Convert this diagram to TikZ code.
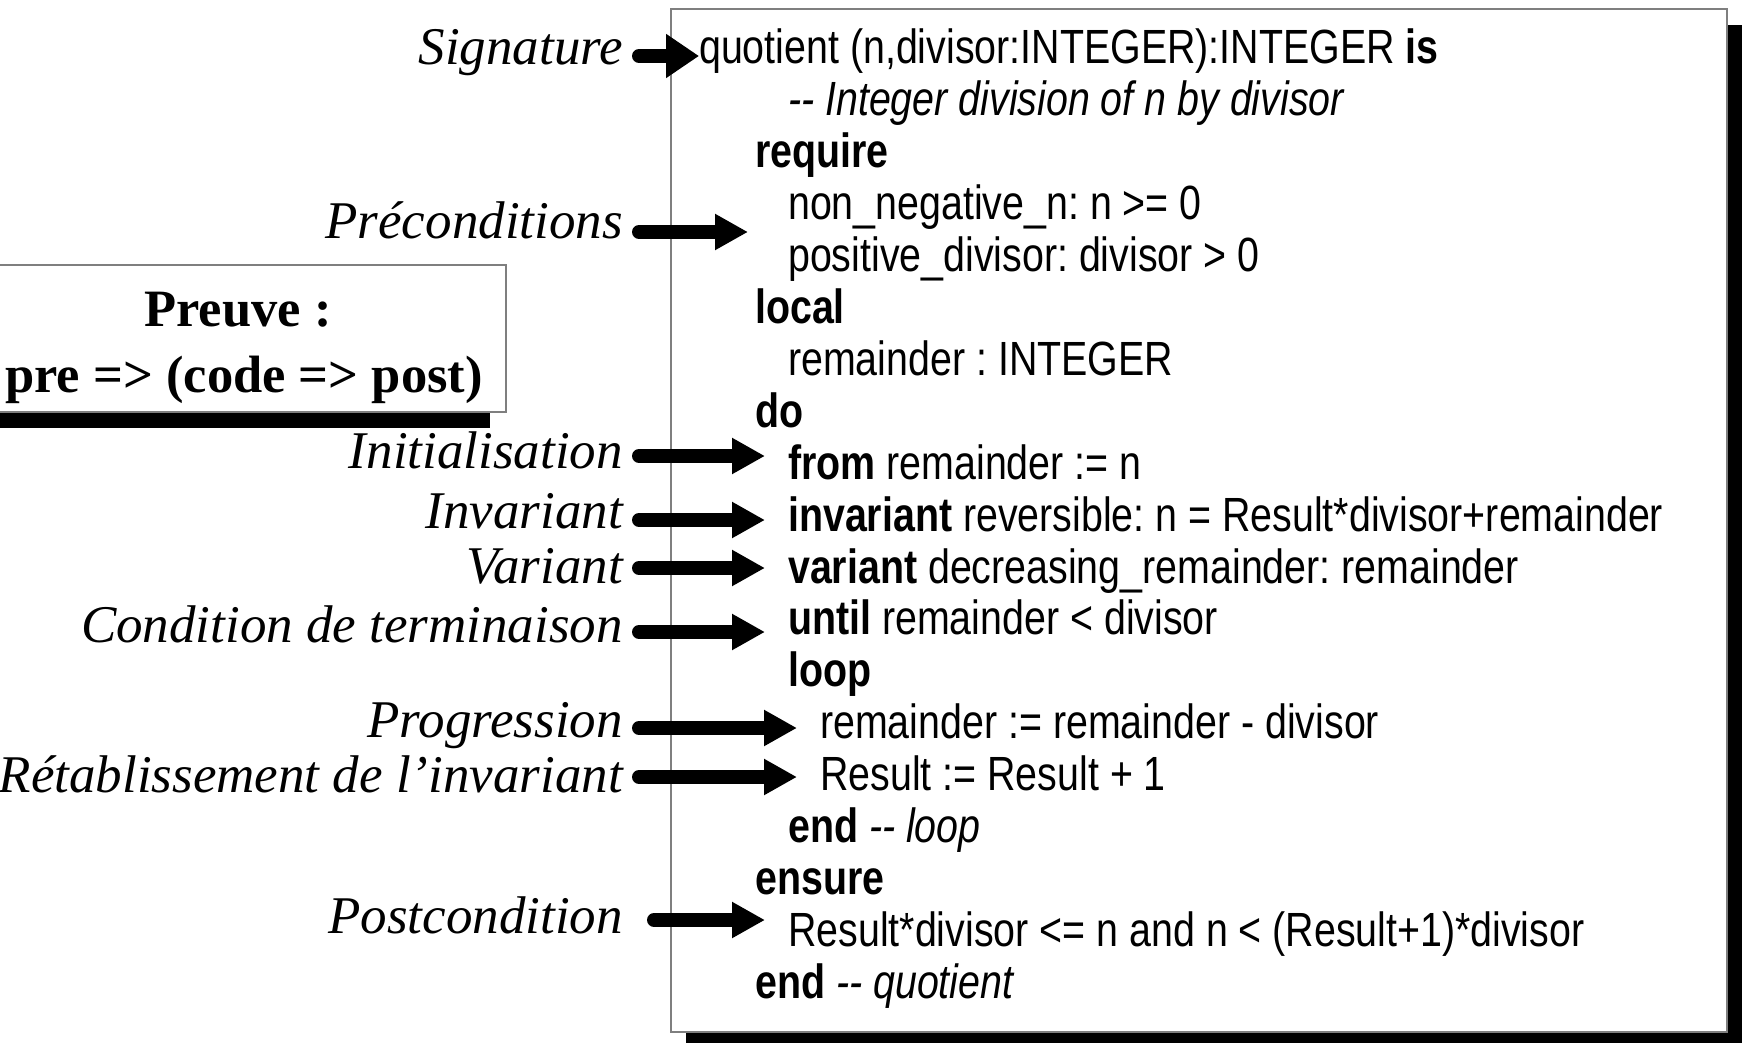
\documentclass[tikz,border=0pt]{standalone}
\usepackage{fontspec}
\usetikzlibrary{arrows.meta}
\newfontfamily\codefont[FakeStretch=0.82]{Liberation Sans}
\newfontfamily\lblfont{Liberation Serif}
\definecolor{framegray}{HTML}{7F7F7F}
\frenchspacing

\tikzset{
  codeline/.style={anchor=base west, inner sep=0pt,
    font=\codefont\fontsize{48pt}{52pt}\selectfont},
  lbl/.style={anchor=base east, inner sep=0pt,
    font=\lblfont\itshape\fontsize{53pt}{60pt}\selectfont},
  prooftext/.style={anchor=base, inner sep=0pt,
    font=\lblfont\bfseries\fontsize{52.5pt}{60pt}\selectfont},
  framebox/.style={draw=framegray, line width=2pt, fill=white},
  shadowbox/.style={fill=black},
  bigarrow/.style={line width=14pt, line cap=round,
    -{Triangle[length=33pt,width=34pt]}},
  sigarrow/.style={line width=14pt, line cap=round,
    -{Triangle[length=33pt,width=42pt]}},
}

\begin{document}
\begin{tikzpicture}[x=1pt, y=-1pt]
\useasboundingbox (0,0) rectangle (1745,1043);
\fill[white] (0,0) rectangle (1745,1043);
\clip (0,0) rectangle (1745,1043);

% code frame with its drop shadow
\fill[shadowbox] (686,25) rectangle (1742,1047);
\draw[framebox] (671,9) rectangle (1727,1032);

% proof box with its drop shadow
\fill[shadowbox] (-46,281) rectangle (490,428);
\draw[framebox] (-30,265) rectangle (506,412);
\node[prooftext] (proofA) at (238,326) {Preuve :};
\node[prooftext] (proofB) at (244,392) {pre => (code => post)};

% routine text
\node[codeline] (l0)  at (699,64.0)  {quotient (n,divisor:INTEGER):INTEGER \textbf{is}};
\node[codeline] (l1)  at (788,115.9) {\itshape -{}- Integer division of n by divisor};
\node[codeline] (l2)  at (755,167.8) {\textbf{require}};
\node[codeline] (l3)  at (788,219.7) {non\_negative\_n: n >= 0};
\node[codeline] (l4)  at (788,271.6) {positive\_divisor: divisor > 0};
\node[codeline] (l5)  at (755,323.5) {\textbf{local}};
\node[codeline] (l6)  at (788,375.4) {remainder : INTEGER};
\node[codeline] (l7)  at (755,427.3) {\textbf{do}};
\node[codeline] (l8)  at (788,479.2) {\textbf{from} remainder := n};
\node[codeline] (l9)  at (788,531.1) {\textbf{invariant} reversible: n = Result*divisor+remainder};
\node[codeline] (l10) at (788,583.0) {\textbf{variant} decreasing\_remainder: remainder};
\node[codeline] (l11) at (788,634.9) {\textbf{until} remainder < divisor};
\node[codeline] (l12) at (788,686.8) {\textbf{loop}};
\node[codeline] (l13) at (820,738.7) {remainder := remainder - divisor};
\node[codeline] (l14) at (820,790.6) {Result := Result + 1};
\node[codeline] (l15) at (788,842.5) {\textbf{end} \textit{-{}- loop}};
\node[codeline] (l16) at (755,894.4) {\textbf{ensure}};
\node[codeline] (l17) at (788,946.3) {Result*divisor <= n and n < (Result+1)*divisor};
\node[codeline] (l18) at (755,998.2) {\textbf{end} \textit{-{}- quotient}};

% annotation labels
\node[lbl] (sig)  at (623,65)  {Signature};
\node[lbl] (pre)  at (623,238) {Préconditions};
\node[lbl] (init) at (623,468) {Initialisation};
\node[lbl] (inv)  at (623,528) {Invariant};
\node[lbl] (var)  at (623,583) {Variant};
\node[lbl] (cond) at (623,642) {Condition de terminaison};
\node[lbl] (prog) at (623,737) {Progression};
\node[lbl] (ret)  at (623,792) {Rétablissement de l’invariant};
\node[lbl] (post) at (623,933) {Postcondition};

% arrow tails next to the labels
\coordinate (sigT)  at ([shift={(16pt,9pt)}]sig.base east);
\coordinate (preT)  at ([shift={(16pt,6pt)}]pre.base east);
\coordinate (initT) at ([shift={(16pt,12pt)}]init.base east);
\coordinate (invT)  at ([shift={(16pt,8pt)}]inv.base east);
\coordinate (varT)  at ([shift={(16pt,15pt)}]var.base east);
\coordinate (condT) at ([shift={(16pt,10pt)}]cond.base east);
\coordinate (progT) at ([shift={(16pt,9pt)}]prog.base east);
\coordinate (retT)  at ([shift={(16pt,15pt)}]ret.base east);
\coordinate (postT) at ([shift={(31pt,13pt)}]post.base east);

% arrow tips just before the code lines
\coordinate (preH)  at ([xshift=-40pt]l3.west);
\coordinate (initH) at ([xshift=-23pt]l8.west);
\coordinate (invH)  at ([xshift=-23pt]l9.west);
\coordinate (varH)  at ([xshift=-23pt]l10.west);
\coordinate (condH) at ([xshift=-23pt]l11.west);
\coordinate (progH) at ([xshift=-23pt]l13.west);
\coordinate (retH)  at ([xshift=-23pt]l14.west);
\coordinate (postH) at ([xshift=-23pt]l17.west);

\draw[sigarrow] (sigT) -- (sigT -| l0.west);
\draw[bigarrow] (preT)  -- (preT -| preH);
\draw[bigarrow] (initT) -- (initT -| initH);
\draw[bigarrow] (invT)  -- (invT -| invH);
\draw[bigarrow] (varT)  -- (varT -| varH);
\draw[bigarrow] (condT) -- (condT -| condH);
\draw[bigarrow] (progT) -- (progT -| progH);
\draw[bigarrow] (retT)  -- (retT -| retH);
\draw[bigarrow] (postT) -- (postT -| postH);
\end{tikzpicture}
\end{document}
